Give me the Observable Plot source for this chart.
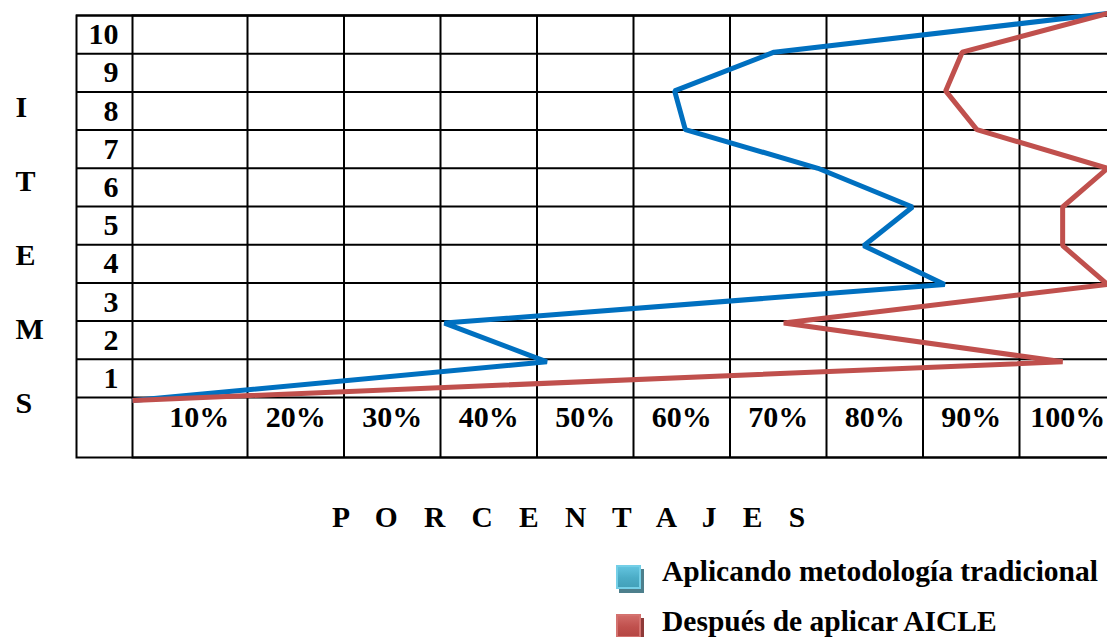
<!DOCTYPE html>
<html>
<head>
<meta charset="utf-8">
<script src="https://cdn.jsdelivr.net/npm/d3@7"></script>
<script src="https://cdn.jsdelivr.net/npm/@observablehq/plot@0.6"></script>
<style>
  body { margin: 0; background: #fff; overflow: hidden; }
  #chart {
    position: relative; width: 1107px; height: 637px; overflow: hidden;
    font-family: "Liberation Serif", "Times New Roman", serif; font-weight: bold; color: #000;
  }
  #chart .layer { position: absolute; left: 0; top: 0; width: 1116px; }
  #chart .layer svg { max-width: none; }
  #chart .label { position: absolute; font-size: 29.5px; line-height: 29px; white-space: nowrap; }
  #xtitle { left: 332px; top: 503px; letter-spacing: 9.45px; }
  .swatch { position: absolute; left: 616px; width: 25px; height: 24px; box-sizing: border-box; }
</style>
</head>
<body>
<div id="chart">
  <div id="grid" class="layer"></div>
  <div id="lines" class="layer"></div>
  <div id="xtitle" class="label">P O R C E N T A J E S</div>
  <div id="legend"></div>
</div>
<script>
// Item rows and percentage columns of the table
const items = [1, 2, 3, 4, 5, 6, 7, 8, 9, 10];
const percentTicks = [10, 20, 30, 40, 50, 60, 70, 80, 90, 100];
const sideLetters = ["I", "T", "E", "M", "S"];

// Each series starts at the origin (step 0) and then follows items 1..10
const steps = [0, 1, 2, 3, 4, 5, 6, 7, 8, 9, 10];
const tradicional = [0, 42.5, 32, 83.3, 75, 80, 70.3, 56.7, 55.6, 65.8, 100];
const aicle = [0, 95.4, 66.8, 100, 95.4, 95.4, 100, 86.6, 83.4, 85.1, 100];

const seriesNames = ["Aplicando metodología tradicional", "Después de aplicar AICLE"];
const lineColors = ["#0070c0", "#c0504d"];
const swatchFill = ["linear-gradient(#62c3de, #4bacc6 55%, #43a1ba)", "linear-gradient(#d06a67, #c0504d 55%, #b54744)"];
const swatchEdge = ["#74cfe7", "#d4726f"];
const swatchShadow = ["#4d7f8c", "#8e3a38"];

const textFont = {
  fontFamily: '"Liberation Serif", "Times New Roman", serif',
  fontWeight: "bold",
  fontSize: 30,
  fill: "#000",
  lineAnchor: "middle"
};
const ink = {stroke: "#000", strokeWidth: 2};
const svgStyle = {background: "transparent", overflow: "visible", maxWidth: "none"};

// Table: frame, row and column rules, item numbers, percentage labels, side word
const grid = Plot.plot({
  width: 1116,
  height: 470,
  marginLeft: 76,
  marginRight: 0,
  marginTop: 15,
  marginBottom: 13,
  x: {domain: [0, 100], range: [150.5, 1115.5], axis: null},
  y: {domain: [0, items.length], range: [397, 15], axis: null},
  style: svgStyle,
  marks: [
    Plot.ruleY(d3.range(0, items.length + 1), ink),
    Plot.ruleX(percentTicks, ink),
    Plot.frame(ink),
    Plot.frame({...ink, insetLeft: 56}),
    Plot.text(items, {
      y: d => d - 0.5, text: d => String(d),
      frameAnchor: "left", dx: 42, textAnchor: "end", ...textFont
    }),
    Plot.text(percentTicks, {
      x: d => d - 5, text: d => d + "%",
      frameAnchor: "bottom", dy: -40, ...textFont
    }),
    Plot.text(sideLetters, {
      y: (d, i) => 7.6 - i * 1.94, text: d => d,
      frameAnchor: "left", dx: -61, textAnchor: "start", ...textFont
    })
  ]
});
document.getElementById("grid").append(grid);

// Series lines
const lineData = [];
[tradicional, aicle].forEach((values, s) => {
  values.forEach((v, i) => lineData.push({series: seriesNames[s], step: steps[i], value: v}));
});

const lines = Plot.plot({
  width: 1116,
  height: 470,
  margin: 0,
  x: {domain: [0, 100], range: [132, 1107], axis: null},
  y: {domain: [0, 10], range: [400, 13], axis: null},
  color: {domain: seriesNames, range: lineColors},
  style: svgStyle,
  marks: [
    Plot.line(lineData, {
      x: "value", y: "step", z: "series", stroke: "series",
      strokeWidth: 5, strokeLinejoin: "miter", strokeLinecap: "butt"
    })
  ]
});
document.getElementById("lines").append(lines);

// Legend below the table
const legend = document.getElementById("legend");
const swatchTops = [565, 614];
const textTops = [557, 607];
seriesNames.forEach((name, i) => {
  const sw = document.createElement("div");
  sw.className = "swatch";
  sw.style.top = swatchTops[i] + "px";
  sw.style.background = swatchFill[i];
  sw.style.border = "2px solid " + swatchEdge[i];
  sw.style.boxShadow = "3px 4px 0 " + swatchShadow[i];
  legend.append(sw);
  const tx = document.createElement("div");
  tx.className = "label";
  tx.style.left = "662px";
  tx.style.top = textTops[i] + "px";
  tx.textContent = name;
  legend.append(tx);
});
</script>
</body>
</html>
